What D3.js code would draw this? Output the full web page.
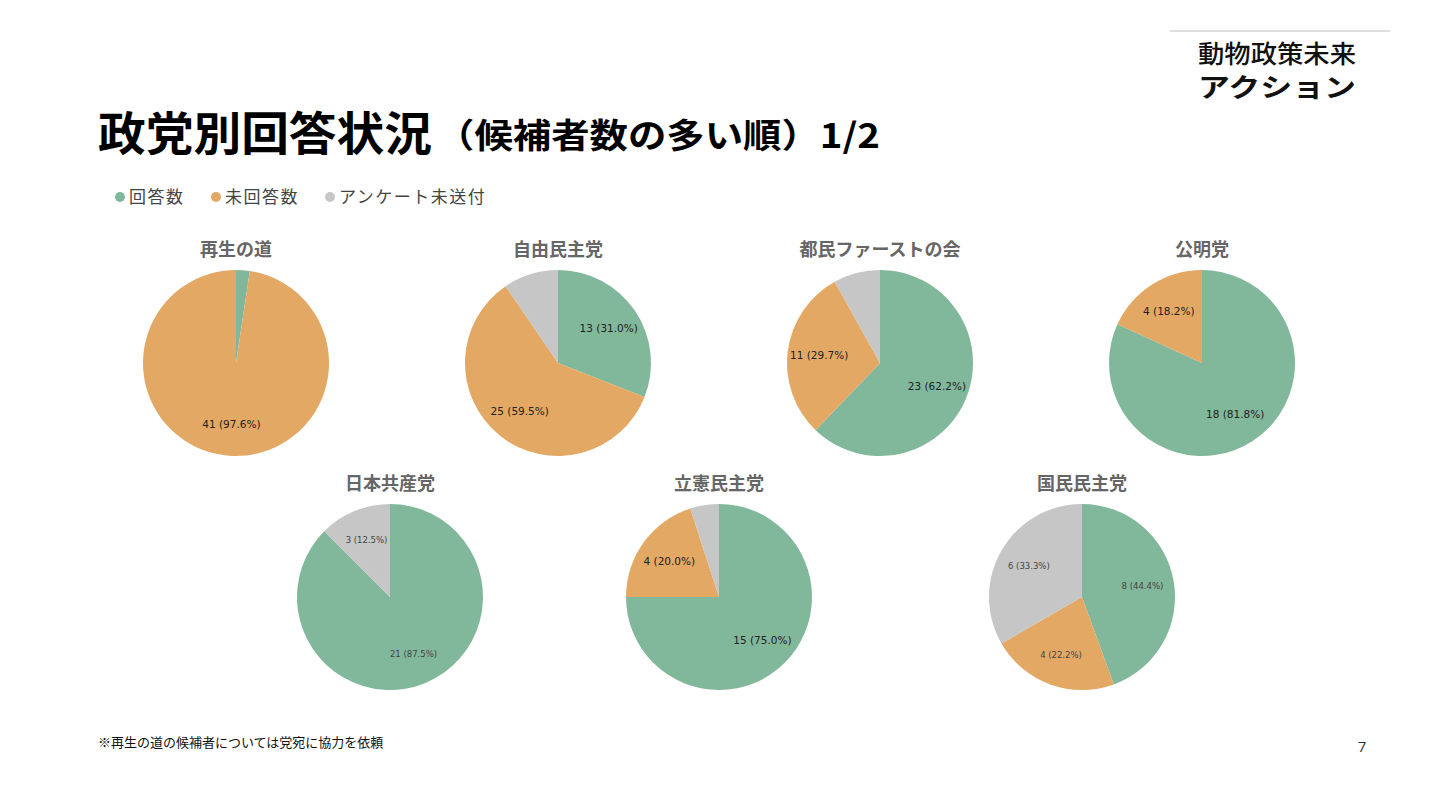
<!DOCTYPE html>
<html><head><meta charset="utf-8">
<script src="https://cdn.jsdelivr.net/npm/d3@7"></script>
<style>body{margin:0;background:#fff}svg{display:block}</style>
</head><body>
<svg id="c" width="1440" height="810"></svg>
<script>
const parties = ["再生の道","自由民主党","都民ファーストの会","公明党","日本共産党","立憲民主党","国民民主党"];
const answered   = [1,13,23,18,21,15,8];
const unanswered = [41,25,11,4,0,4,4];
const notSent    = [0,4,3,0,3,1,6];
const seriesNames = ["回答数","未回答数","アンケート未送付"];
const colors = ["#81b89b","#e3a864","#c6c6c6"];
const smallLabel = [false,false,false,false,true,false,true];
const centers = [[236,363],[558,363],[880,363],[1202,363],[390,597],[719,597],[1082,597]];

const svg = d3.select("#c");
const jp = "'Noto Sans CJK JP', sans-serif";

svg.append("text").attr("x",98).attr("y",150).attr("font-family",jp).attr("font-weight",700)
  .attr("font-size",46).attr("fill","#000").attr("textLength",334).attr("lengthAdjust","spacingAndGlyphs")
  .text("政党別回答状況");
svg.append("text").attr("x",436).attr("y",148).attr("font-family",jp).attr("font-weight",700)
  .attr("font-size",34).attr("fill","#000").attr("textLength",444).attr("lengthAdjust","spacingAndGlyphs")
  .text("（候補者数の多い順）1/2");

// logo
svg.append("line").attr("x1",1170).attr("x2",1390).attr("y1",31).attr("y2",31).attr("stroke","#bbb");
const lg = svg.append("g").attr("font-family",jp).attr("fill","#111");
lg.append("text").attr("x",1198).attr("y",63).attr("font-size",25).attr("font-weight",500).attr("textLength",158).attr("lengthAdjust","spacingAndGlyphs").text("動物政策未来");
lg.append("text").attr("x",1198).attr("y",97).attr("font-size",26).attr("font-weight",700).attr("textLength",158).attr("lengthAdjust","spacingAndGlyphs").text("アクション");

// legend
const leg = svg.append("g").attr("font-family",jp).attr("font-size",17).attr("fill","#444");
const lxs=[120,216,330];
seriesNames.forEach((n,i)=>{
  leg.append("circle").attr("cx",lxs[i]).attr("cy",197).attr("r",5).attr("fill",colors[i]);
  leg.append("text").attr("x",lxs[i]+9).attr("y",203).attr("letter-spacing",1.5).text(n);
});

const pie = d3.pie().sort(null).value(d=>d).startAngle(0).endAngle(2*Math.PI);
const R = 93;
const arc = d3.arc().innerRadius(0).outerRadius(R);
const lab = d3.arc().innerRadius(R*0.66).outerRadius(R*0.66);

parties.forEach((p,k)=>{
  const vals=[answered[k],unanswered[k],notSent[k]];
  const tot=d3.sum(vals);
  const [cx,cy]=centers[k];
  const g=svg.append("g").attr("transform",`translate(${cx},${cy})`);
  svg.append("text").attr("x",cx).attr("y",cy-107).attr("text-anchor","middle")
    .attr("font-family",jp).attr("font-weight",700).attr("font-size",18).attr("fill","#666").text(p);
  const arcs=pie(vals);
  g.selectAll("path").data(arcs).join("path").attr("d",arc).attr("fill",(d,i)=>colors[i]);
  g.selectAll("text.l").data(arcs.filter(d=>d.value>0 && d.value/tot>0.1)).join("text")
    .attr("transform",d=>`translate(${lab.centroid(d)})`).attr("text-anchor","middle").attr("dy","0.35em")
    .attr("font-family","'DejaVu Sans', sans-serif").attr("font-size",smallLabel[k]?8.5:10.5)
    .attr("fill",smallLabel[k]?"#444":"#222")
    .text(d=>`${d.value} (${(d.value/tot*100).toFixed(1)}%)`);
});

svg.append("text").attr("x",98).attr("y",747).attr("font-family",jp).attr("font-size",13).attr("fill","#111")
  .text("※再生の道の候補者については党宛に協力を依頼");
svg.append("text").attr("x",1362).attr("y",752).attr("text-anchor","middle").attr("font-family","'Open Sans',sans-serif").attr("font-size",15).attr("fill","#333").text("7");
</script>
</body></html>
